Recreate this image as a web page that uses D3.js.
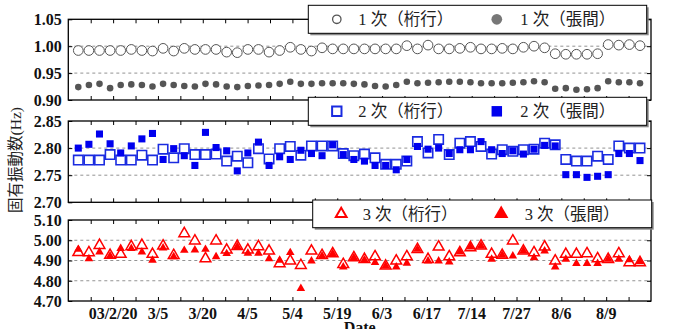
<!DOCTYPE html>
<html><head><meta charset="utf-8">
<script src="https://cdn.jsdelivr.net/npm/d3@7"></script>
<style>
html,body{margin:0;padding:0;background:#fff;}
svg{display:block;}
</style></head>
<body>
<svg id="chart" width="675" height="329"></svg>
<script>
// ---- data ----
const dateLabels = ["03/2/20","3/5","3/20","4/5","5/4","5/19","6/3","6/17","7/14","7/27","8/6","8/9"];
const dateTickIdx = [2,4,6,8,10,12,14,16,18,20,22,24];

const mode1Keta = [0.992,0.992,0.992,0.992,0.992,0.994,0.992,0.991,0.996,0.991,0.996,0.994,0.994,0.994,0.989,0.988,0.994,0.994,0.989,0.992,0.998,0.994,0.991,0.997,0.995,
  0.995,0.995,0.995,0.995,0.995,0.995,1.001,0.995,1.002,0.995,0.995,0.996,0.998,0.995,0.995,0.996,0.995,0.998,1.000,0.997,0.986,0.985,0.985,0.985,0.986,1.003,1.002,1.003,1.001];
const mode1Hari = [0.924,0.928,0.930,0.922,0.928,0.929,0.928,0.925,0.930,0.928,0.926,0.925,0.930,0.929,0.925,0.924,0.926,0.927,0.928,0.930,0.934,0.930,0.930,0.931,0.931,
  0.931,0.930,0.929,0.926,0.925,0.928,0.934,0.931,0.932,0.933,0.934,0.934,0.933,0.931,0.931,0.931,0.932,0.933,0.935,0.933,0.921,0.922,0.919,0.920,0.922,0.935,0.933,0.933,0.931];

const mode2Keta = [2.778,2.778,2.778,2.788,2.778,2.778,2.787,2.778,2.798,2.782,2.799,2.788,2.788,2.789,2.776,2.785,2.773,2.799,2.780,2.799,2.803,2.787,2.804,2.804,2.804,
  2.790,2.786,2.789,2.782,2.770,2.770,2.776,2.812,2.791,2.816,2.788,2.809,2.812,2.803,2.789,2.797,2.794,2.797,2.798,2.809,2.806,2.779,2.776,2.776,2.785,2.779,2.804,2.800,2.800];
const mode2Hari = [2.800,2.807,2.826,2.808,2.791,2.804,2.817,2.827,2.779,2.799,2.786,2.768,2.829,2.801,2.795,2.758,2.791,2.811,2.768,2.784,2.779,2.796,2.790,2.786,2.806,
  2.788,2.779,2.776,2.768,2.768,2.760,2.779,2.803,2.798,2.800,2.790,2.797,2.797,2.812,2.797,2.790,2.795,2.789,2.798,2.805,2.804,2.751,2.751,2.746,2.748,2.751,2.790,2.790,2.777];

const mode3Keta = [4.940,4.939,4.975,4.926,4.931,4.969,4.975,4.931,4.972,4.925,5.033,4.997,4.909,4.997,4.952,4.970,4.952,4.969,4.947,4.885,4.898,4.876,4.947,4.925,4.934,
  4.881,4.914,4.906,4.919,4.873,4.898,4.919,4.955,4.906,4.967,4.919,4.939,4.964,4.972,4.931,4.926,4.997,4.947,4.939,4.967,4.898,4.931,4.931,4.934,4.909,4.906,4.934,4.890,4.890];
const mode3Hari = [4.955,4.909,4.942,4.922,4.959,4.959,4.942,4.901,4.962,4.919,4.950,4.952,4.955,4.919,4.934,4.969,4.936,4.936,4.909,4.901,4.939,4.762,4.898,4.922,4.934,
  4.868,4.914,4.903,4.890,4.873,4.868,4.886,4.955,4.898,4.898,4.893,4.942,4.967,4.972,4.906,4.926,4.922,4.947,4.914,4.947,4.868,4.906,4.885,4.885,4.885,4.906,4.906,4.903,4.894];

const yTicks1 = [0.90,0.95,1.00,1.05];
const yTicks2 = [2.70,2.75,2.80,2.85];
const yTicks3 = [4.70,4.80,4.90,5.00,5.10];

const legend1 = ["1 次（桁行）","1 次（張間）"];
const legend2 = ["2 次（桁行）","2 次（張間）"];
const legend3 = ["3 次（桁行）","3 次（張間）"];
const yTitle = "固有振動数(Hz)";
const xTitle = "Date";

// ---- drawing ----
const svg = d3.select("#chart");
const L = 68.3, R = 651;
const nPts = mode1Keta.length;
const xAxisScale = d3.scaleLinear().domain([0,26]).range([L,R]);
const xPts = d3.scaleLinear().domain([0,nPts-1]).range([78.3,640]);
const latin = "'Liberation Serif','Times New Roman',serif";
const cjk = "'Liberation Serif','Noto Sans CJK JP',serif";

const panels = [
  {top:19.3,bottom:100, dom:[0.90,1.05], ticks:yTicks1, keta:mode1Keta, hari:mode1Hari,
   symOpen:d3.symbolCircle, sizeOpen:74, symFill:d3.symbolCircle, sizeFill:34,
   strokeOpen:"#555", fill:"#555", swOpen:1,
   legend:legend1, box:{x:308.3,y:5.3,w:338.4,h:28}},
  {top:121,bottom:202.3, dom:[2.70,2.85], ticks:yTicks2, keta:mode2Keta, hari:mode2Hari,
   symOpen:d3.symbolSquare, sizeOpen:88, symFill:d3.symbolSquare, sizeFill:50,
   strokeOpen:"#1a2be0", fill:"#0000ee", swOpen:1.6,
   legend:legend2, box:{x:308.3,y:97.3,w:338.4,h:28}},
  {top:220,bottom:301, dom:[4.70,5.10], ticks:yTicks3, keta:mode3Keta, hari:mode3Hari,
   symOpen:d3.symbolTriangle, sizeOpen:50, symFill:d3.symbolTriangle, sizeFill:32,
   strokeOpen:"#ff0000", fill:"#ff0000", swOpen:1.5,
   legend:legend3, box:{x:312.7,y:200,w:339,h:27.7}}
];

panels.forEach((p,pi)=>{
  const y = d3.scaleLinear().domain(p.dom).range([p.bottom,p.top]);
  const g = svg.append("g");
  g.selectAll(".grid").data(p.ticks.slice(1,-1)).join("line")
    .attr("x1",L).attr("x2",R).attr("y1",d=>y(d)).attr("y2",d=>y(d))
    .attr("stroke","#777").attr("stroke-width",0.8).attr("stroke-dasharray","3,3");
  const yl = g.append("g").attr("transform",`translate(${L},0)`)
    .call(d3.axisRight(y).tickValues(p.ticks).tickSize(4).tickFormat(""));
  yl.select(".domain").remove();
  const yr = g.append("g").attr("transform",`translate(${R},0)`)
    .call(d3.axisLeft(y).tickValues(p.ticks).tickSize(4).tickFormat(""));
  yr.select(".domain").remove();
  g.selectAll(".ylab").data(p.ticks).join("text")
    .attr("x",L-6.5).attr("y",d=>y(d)).attr("dy","0.36em")
    .attr("text-anchor","end").attr("font-family",latin).attr("font-weight","bold")
    .attr("font-size","16px").attr("fill","#111")
    .text(d=>d3.format(".2f")(d));
  const xt = d3.range(1,26);
  const xb = g.append("g").attr("transform",`translate(0,${p.bottom})`)
    .call(d3.axisTop(xAxisScale).tickValues(xt).tickSize(4).tickFormat(""));
  xb.select(".domain").remove();
  const xtop = g.append("g").attr("transform",`translate(0,${p.top})`)
    .call(d3.axisBottom(xAxisScale).tickValues(xt).tickSize(4).tickFormat(""));
  xtop.select(".domain").remove();
  g.selectAll(".tick line").attr("stroke","#000").attr("stroke-width",1);
  g.append("rect").attr("x",L).attr("y",p.top).attr("width",R-L).attr("height",p.bottom-p.top)
    .attr("fill","none").attr("stroke","#000").attr("stroke-width",1.3);
  g.selectAll(".open").data(p.keta).join("path")
    .attr("transform",(d,i)=>`translate(${xPts(i)},${y(d)})`)
    .attr("d",d3.symbol().type(p.symOpen).size(p.sizeOpen))
    .attr("fill","#fff").attr("stroke",p.strokeOpen).attr("stroke-width",p.swOpen);
  g.selectAll(".fill").data(p.hari).join("path")
    .attr("transform",(d,i)=>`translate(${xPts(i)},${y(d)})`)
    .attr("d",d3.symbol().type(p.symFill).size(p.sizeFill))
    .attr("fill",p.fill).attr("stroke","none");
  const b = p.box;
  g.append("rect").attr("x",b.x+2).attr("y",b.y+2).attr("width",b.w).attr("height",b.h).attr("fill","#888");
  g.append("rect").attr("x",b.x).attr("y",b.y).attr("width",b.w).attr("height",b.h)
    .attr("fill","#fff").attr("stroke","#000").attr("stroke-width",1);
  const cy = b.y + b.h/2;
  const mx = [b.x+28.5, b.x+188.5];
  const tx = [b.x+50, b.x+212];
  g.append("path").attr("transform",`translate(${mx[0]},${cy})`)
    .attr("d",d3.symbol().type(p.symOpen).size(p.sizeOpen*(pi===0?0.75:1.0)))
    .attr("fill","#fff").attr("stroke",p.strokeOpen).attr("stroke-width",pi===0?1.3:2);
  g.append("path").attr("transform",`translate(${mx[1]},${cy})`)
    .attr("d",d3.symbol().type(p.symFill).size(pi===0?90:(pi===1?110:90)))
    .attr("fill",pi===0?"#777":p.fill);
  p.legend.forEach((t,k)=>{
    g.append("text").attr("x",tx[k]).attr("y",cy).attr("dy","0.36em")
      .attr("font-family",cjk).attr("font-size","16.5px").attr("fill","#222")
      .text(t);
  });
});

const pb = panels[2].bottom;
svg.append("g").selectAll("text").data(dateLabels).join("text")
  .attr("x",(d,i)=>xAxisScale(dateTickIdx[i])).attr("y",pb+17.5)
  .attr("text-anchor","middle").attr("font-family",latin).attr("font-weight","bold")
  .attr("font-size","16px").attr("fill","#111").text(d=>d);
svg.append("text").attr("x",(L+R)/2).attr("y",333).attr("text-anchor","middle")
  .attr("font-family",latin).attr("font-weight","bold").attr("font-size","16px").attr("fill","#111").text(xTitle);
svg.append("text").attr("transform","translate(21,160) rotate(-90)")
  .attr("text-anchor","middle").attr("font-family",cjk).attr("font-size","15.5px").attr("fill","#222")
  .text(yTitle);
</script>
</body></html>
